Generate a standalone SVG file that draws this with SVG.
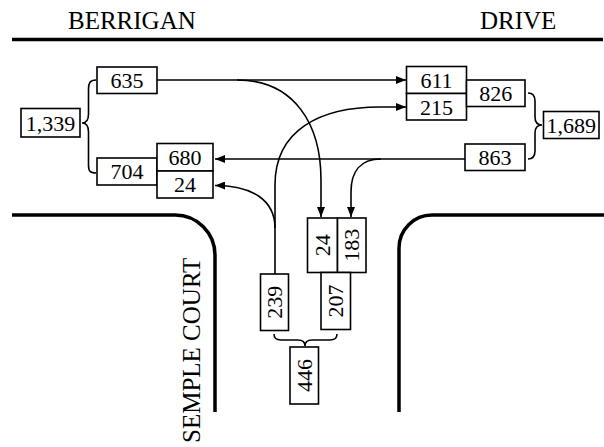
<svg xmlns="http://www.w3.org/2000/svg" width="604" height="447" viewBox="0 0 604 447">
<style>
.road{fill:none;stroke:#000;stroke-width:3.5}
.box{fill:#fff;stroke:#000;stroke-width:1.6}
.con{fill:none;stroke:#000;stroke-width:1.6}
.brace{fill:none;stroke:#000;stroke-width:1.6}
.num{font-family:"Liberation Serif","Times New Roman",serif;font-size:22px;text-anchor:middle;fill:#000}
.lbl{font-family:"Liberation Serif","Times New Roman",serif;font-size:25px;fill:#000}
</style>
<defs>
<marker id="ah" markerUnits="userSpaceOnUse" markerWidth="10" markerHeight="8" refX="10" refY="4" orient="auto">
<path d="M0,0 L10,4 L0,8 Z" fill="#000"/>
</marker>
</defs>
<g id="roads">
<path class="road" d="M12,39.5 H603"/>
<path class="road" d="M12,215 H175 A40,40 0 0 1 215,255 V412"/>
<path class="road" d="M604,215 H432 A33,33 0 0 0 399,248 V412"/>
<text class="lbl" x="68" y="28.5">BERRIGAN</text>
<text class="lbl" x="480" y="28.5">DRIVE</text>
<text class="lbl" transform="translate(200,443) rotate(-90)">SEMPLE COURT</text>
</g>
<g id="connectors">
<path class="con" d="M157,80 H406" marker-end="url(#ah)"/>
<path class="con" d="M237,80 C295,80 321,125 321,180 V217" marker-end="url(#ah)"/>
<path class="con" d="M275,274 V185 C275,130 320,107 380,107 H406" marker-end="url(#ah)"/>
<path class="con" d="M275,228 C275,200 252,185.5 215,185.5" marker-end="url(#ah)"/>
<path class="con" d="M465,159 H215" marker-end="url(#ah)"/>
<path class="con" d="M381,159 C360,159 351,172 351,192 V217" marker-end="url(#ah)"/>
</g>
<g id="braces">
<path class="brace" d="M96,80 C90,80 88.5,83 88.5,89 V114 C88.5,120 87,123 82,123 C87,123 88.5,126 88.5,132 V165 C88.5,171 90,173 96,173"/>
<path class="brace" d="M528,93 C533,93 535,96 535,101 V117 C535,122 537,125 542,125 C537,125 535,128 535,133 V151 C535,156 533,159 528,159"/>
<path class="brace" d="M274,334 C274,338.5 276,340 281,340 H298 C302,340 305,342 305,346 C305,342 308,340 312,340 H330 C335,340 337,338.5 337,334"/>
</g>
<g id="n1339"><rect class="box" x="21" y="108.5" width="59" height="28.5"/><text class="num" x="50.5" y="130.5">1,339</text></g>
<g id="n635"><rect class="box" x="97" y="67" width="60" height="26.5"/><text class="num" x="127" y="88">635</text></g>
<g id="n704"><rect class="box" x="97" y="158" width="60" height="27"/><text class="num" x="127" y="179">704</text></g>
<g id="n680"><rect class="box" x="157" y="143.5" width="56" height="27.5"/><text class="num" x="185" y="164.5">680</text></g>
<g id="n24w"><rect class="box" x="157" y="171" width="56" height="27"/><text class="num" x="185" y="192">24</text></g>
<g id="n611"><rect class="box" x="406.5" y="66.5" width="60" height="27"/><text class="num" x="436.5" y="87.5">611</text></g>
<g id="n215"><rect class="box" x="406.5" y="93.5" width="60" height="26.5"/><text class="num" x="436.5" y="114.5">215</text></g>
<g id="n826"><rect class="box" x="466.5" y="80" width="58.5" height="26.5"/><text class="num" x="495.75" y="101">826</text></g>
<g id="n863"><rect class="box" x="465" y="144" width="60" height="26.5"/><text class="num" x="495" y="165">863</text></g>
<g id="n1689"><rect class="box" x="543.5" y="111.5" width="55.5" height="27"/><text class="num" x="571.25" y="132.5">1,689</text></g>
<g id="n24s"><rect class="box" x="307.5" y="218" width="30" height="54.5"/><text class="num" transform="translate(322.5,245.25) rotate(-90)" y="7.5">24</text></g>
<g id="n183"><rect class="box" x="337.5" y="218" width="28.5" height="54.5"/><text class="num" transform="translate(351.75,245.25) rotate(-90)" y="7.5">183</text></g>
<g id="n207"><rect class="box" x="321" y="272.5" width="29.5" height="57"/><text class="num" transform="translate(335.75,301) rotate(-90)" y="7.5">207</text></g>
<g id="n239"><rect class="box" x="260.5" y="274" width="28" height="56.5"/><text class="num" transform="translate(274.5,302.25) rotate(-90)" y="7.5">239</text></g>
<g id="n446"><rect class="box" x="290" y="347" width="28.5" height="57"/><text class="num" transform="translate(304.25,375.5) rotate(-90)" y="7.5">446</text></g>
</svg>
